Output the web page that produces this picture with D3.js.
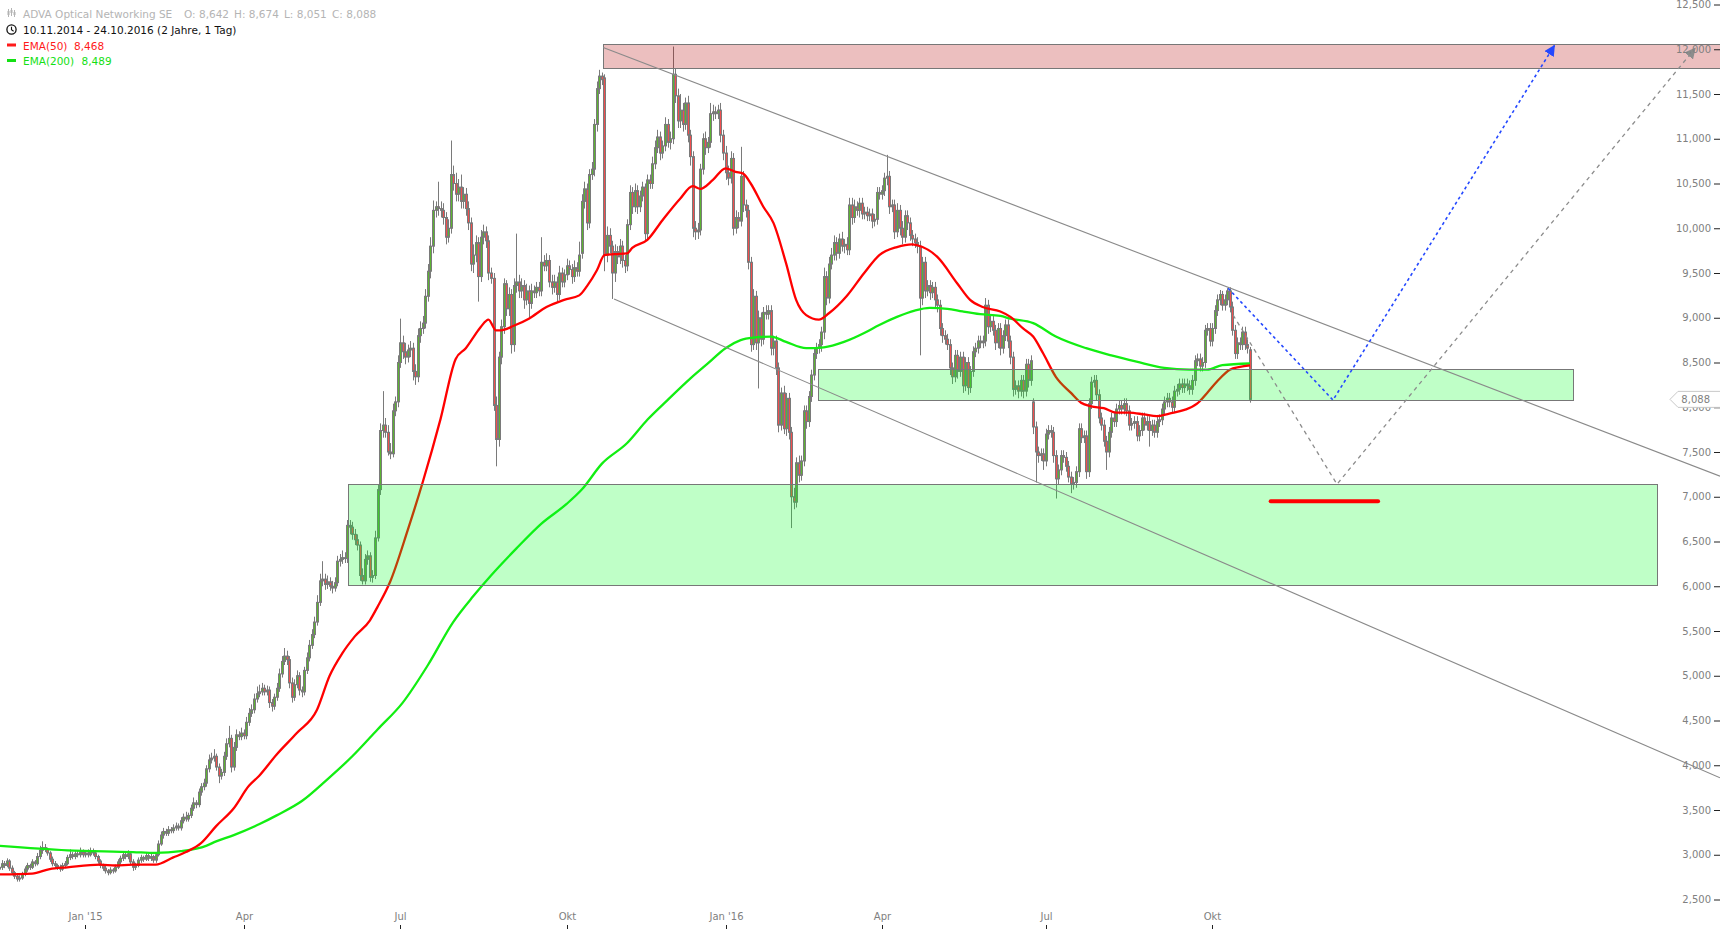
<!DOCTYPE html>
<html><head><meta charset="utf-8">
<script src="https://cdn.jsdelivr.net/npm/d3@7"></script>
<style>body{margin:0;background:#fff;overflow:hidden}svg{display:block}</style>
</head><body><svg id="c" width="1720" height="929"></svg>
<script>
// ---------- DATA (daily candles, trading-day index 0 = 10.11.2014 ... 496 = 24.10.2016) ----------
const opens = [
2.84,2.86,2.90,2.88,2.93,2.85,2.80,2.76,2.73,2.74, 2.78,2.84,2.88,2.86,2.92,2.90,2.98,3.05,3.08,3.06,
3.02,2.95,2.90,2.88,2.86,2.84,2.88,2.90,2.97,3.00, 2.98,3.01,3.00,3.03,3.00,3.02,3.00,3.04,3.02,2.98,
2.93,2.88,2.85,2.82,2.80,2.83,2.82,2.86,2.92,2.96, 3.00,2.98,3.01,2.92,2.86,2.88,2.94,2.97,2.95,2.99,
2.96,2.98,2.94,3.00,3.12,3.22,3.26,3.24,3.28,3.27, 3.30,3.32,3.30,3.38,3.42,3.40,3.44,3.52,3.58,3.56,
3.70,3.76,3.80,3.96,4.06,4.08,4.10,3.98,3.88,3.92, 4.10,4.24,4.30,3.98,4.20,4.34,4.32,4.36,4.33,4.48,
4.58,4.62,4.74,4.80,4.82,4.86,4.82,4.84,4.70,4.66, 4.76,4.86,5.02,5.16,5.22,5.18,4.92,4.76,4.90,5.00,
4.84,4.82,5.06,5.20,5.34,5.46,5.60,5.82,6.06,6.08, 6.02,6.05,6.00,5.98,6.04,6.28,6.30,6.32,6.31,6.68,
6.66,6.58,6.52,6.46,6.12,6.06,6.30,6.34,6.10,6.12, 6.54,7.08,7.74,7.80,7.72,7.50,7.48,7.96,8.06,8.50,
8.72,8.62,8.56,8.64,8.66,8.40,8.34,8.80,8.88,8.94, 9.24,9.52,9.80,10.20,10.24,10.22,10.20,10.12,9.90,10.00,
10.60,10.50,10.38,10.46,10.30,10.38,10.22,10.06,9.60,9.70, 9.84,9.46,9.90,9.96,9.86,9.50,9.44,8.02,7.64,8.56,
8.90,9.38,9.10,9.26,8.70,9.36,9.40,9.30,9.36,9.20, 9.30,9.16,9.30,9.28,9.34,9.30,9.62,9.58,9.64,9.40,
9.34,9.40,9.26,9.50,9.40,9.48,9.58,9.54,9.46,9.56, 9.52,9.72,10.30,10.44,10.06,10.60,10.66,11.16,11.56,11.70,
11.68,9.70,9.92,9.80,9.50,9.74,9.68,9.80,9.64,9.58, 10.04,10.40,10.24,10.42,10.24,10.36,10.46,9.94,10.54,10.50,
10.72,10.90,11.02,10.84,10.92,11.16,10.96,11.00,11.72,11.48, 11.20,11.32,11.16,11.40,11.04,10.80,10.00,9.96,9.98,10.66,
11.00,10.90,10.96,11.28,11.30,11.28,11.32,11.04,10.84,10.62, 10.56,10.78,10.00,10.12,10.08,10.58,10.26,10.20,9.62,8.70,
9.24,8.72,9.00,8.76,9.06,9.04,9.08,8.66,8.74,8.44, 7.80,8.16,7.76,8.10,7.72,7.00,6.94,7.38,7.24,7.40,
7.96,7.84,8.12,8.36,8.60,8.66,8.70,8.84,9.46,9.22, 9.60,9.70,9.84,9.72,9.88,9.80,9.82,9.76,10.26,10.12,
10.24,10.20,10.28,10.16,10.18,10.14,10.16,10.08,10.10,10.40, 10.38,10.42,10.56,10.58,10.24,10.26,9.96,10.20,10.00,9.90,
10.14,10.06,9.92,9.88,9.84,9.80,9.22,9.62,9.30,9.36, 9.28,9.34,9.20,9.14,8.88,8.80,8.76,8.70,8.44,8.34,
8.58,8.40,8.56,8.24,8.50,8.22,8.40,8.62,8.66,8.74, 8.72,8.74,9.14,8.90,8.96,8.86,8.72,8.88,8.66,8.80,
8.92,8.74,8.56,8.20,8.24,8.18,8.30,8.18,8.48,8.30, 8.06,7.78,7.50,7.46,7.48,7.40,7.70,7.74,7.72,7.46,
7.20,7.30,7.46,7.44,7.34,7.22,7.14,7.16,7.28,7.76, 7.66,7.68,7.28,8.04,8.28,8.30,8.14,7.88,7.80,7.62,
7.50,7.72,7.88,7.84,7.98,8.02,7.98,8.04,7.96,7.80, 7.82,7.84,7.68,7.74,7.88,7.80,7.84,7.74,7.80,7.72,
7.84,7.86,7.98,8.06,8.10,8.06,8.00,8.18,8.20,8.26, 8.22,8.26,8.24,8.20,8.30,8.52,8.54,8.46,8.50,8.86,
8.88,8.74,8.88,9.08,9.20,9.26,9.14,9.20,9.30,9.12, 8.86,8.60,8.72,8.70,8.84,8.70,8.642];

const highs = [
2.90,2.94,2.93,2.96,2.95,2.88,2.82,2.78,2.77,2.81, 2.87,2.91,2.90,2.95,2.94,3.02,3.10,3.15,3.12,3.08,
3.04,2.98,2.93,2.90,2.89,2.91,2.93,3.00,3.06,3.03, 3.04,3.05,3.08,3.06,3.05,3.06,3.08,3.07,3.05,3.00,
2.95,2.90,2.88,2.84,2.86,2.85,2.89,2.95,2.99,3.04, 3.03,3.05,3.04,2.95,2.91,2.97,3.00,2.99,3.02,3.01,
3.01,3.00,3.03,3.16,3.26,3.30,3.29,3.32,3.31,3.34, 3.36,3.35,3.42,3.46,3.48,3.47,3.56,3.64,3.61,3.74,
3.80,3.85,4.00,4.12,4.14,4.18,4.13,4.02,3.96,4.15, 4.30,4.44,4.34,4.26,4.40,4.38,4.42,4.40,4.54,4.64,
4.68,4.80,4.88,4.90,4.92,4.90,4.89,4.88,4.74,4.80, 4.92,5.08,5.22,5.31,5.28,5.22,4.98,4.96,5.06,5.04,
4.88,5.10,5.26,5.40,5.52,5.66,5.90,6.14,6.28,6.14, 6.12,6.10,6.06,6.10,6.34,6.36,6.40,6.38,6.74,6.74,
6.72,6.64,6.58,6.50,6.20,6.36,6.40,6.38,6.18,6.62, 7.14,7.82,8.18,7.88,7.80,7.60,8.04,8.12,8.58,8.99,
8.80,8.72,8.70,8.74,8.72,8.48,8.88,8.96,9.02,9.32, 9.60,9.90,10.31,10.30,10.52,10.30,10.28,10.18,10.10,10.98,
10.70,10.62,10.55,10.60,10.46,10.45,10.30,10.12,9.82,9.92, 9.90,9.98,10.04,10.02,9.92,9.56,9.50,8.12,8.62,8.98,
9.44,9.42,9.34,9.32,9.44,9.94,9.48,9.44,9.42,9.38, 9.36,9.38,9.36,9.40,9.40,9.90,9.70,9.72,9.70,9.48,
9.48,9.46,9.58,9.56,9.54,9.66,9.64,9.60,9.64,9.62, 9.85,10.38,10.52,10.50,10.66,10.74,11.22,11.64,11.77,11.74,
11.72,10.02,10.00,9.86,9.82,9.80,9.88,9.86,9.70,10.10, 10.48,10.46,10.50,10.48,10.42,10.52,10.50,10.60,10.60,10.80,
10.98,11.10,11.08,10.98,11.24,11.22,11.08,12.03,11.78,11.56, 11.50,11.40,11.46,11.48,11.10,10.86,10.08,10.06,10.72,11.06,
11.08,11.02,11.40,11.38,11.36,11.38,11.40,11.10,10.92,10.70, 10.86,10.84,10.20,10.18,10.91,10.64,10.32,10.26,9.68,9.32,
9.30,9.08,9.06,9.12,9.14,9.14,9.14,8.80,8.80,8.50, 8.22,8.24,8.16,8.16,7.78,7.10,7.44,7.46,7.46,8.02,
8.02,8.18,8.42,8.66,8.72,8.76,8.90,9.56,9.52,9.68, 9.78,9.92,9.90,9.94,9.96,9.88,9.90,10.34,10.34,10.32,
10.30,10.34,10.34,10.24,10.24,10.22,10.22,10.16,10.46,10.46, 10.48,10.62,10.82,10.64,10.32,10.32,10.28,10.26,10.08,10.20,
10.20,10.12,9.98,9.94,9.90,9.86,9.68,9.68,9.42,9.42, 9.40,9.40,9.26,9.20,8.94,8.86,8.82,8.76,8.50,8.64,
8.64,8.62,8.62,8.56,8.56,8.46,8.68,8.72,8.80,8.80, 8.80,9.22,9.20,9.02,9.02,8.92,8.94,8.94,8.86,8.98,
8.98,8.80,8.62,8.30,8.30,8.36,8.36,8.54,8.54,8.58, 8.10,7.84,7.56,7.54,7.54,7.76,7.80,7.80,7.78,7.52,
7.36,7.52,7.52,7.50,7.40,7.28,7.22,7.34,7.82,7.82, 7.74,7.74,8.10,8.34,8.36,8.36,8.20,7.94,7.86,7.68,
7.78,7.94,7.94,8.04,8.08,8.08,8.10,8.10,8.02,7.88, 7.90,7.90,7.80,7.94,7.94,7.90,7.90,7.86,7.86,7.90,
7.92,8.04,8.12,8.16,8.16,8.12,8.24,8.26,8.32,8.32, 8.32,8.32,8.30,8.36,8.58,8.60,8.60,8.56,8.92,8.94,
8.94,8.94,9.14,9.26,9.31,9.30,9.26,9.33,9.34,9.18, 8.92,8.78,8.78,8.90,8.90,8.76,8.674];

const lows = [
2.81,2.83,2.85,2.86,2.82,2.77,2.73,2.70,2.70,2.72, 2.76,2.81,2.83,2.84,2.87,2.88,2.95,3.01,3.03,2.99,
2.92,2.87,2.85,2.83,2.81,2.82,2.85,2.88,2.94,2.95, 2.95,2.97,2.97,2.97,2.97,2.97,2.98,2.99,2.95,2.90,
2.85,2.82,2.79,2.77,2.78,2.79,2.80,2.84,2.89,2.93, 2.95,2.95,2.89,2.82,2.83,2.86,2.91,2.92,2.93,2.93,
2.93,2.91,2.91,2.98,3.10,3.18,3.21,3.21,3.24,3.24, 3.27,3.27,3.27,3.35,3.37,3.37,3.41,3.49,3.52,3.53,
3.66,3.72,3.76,3.92,4.02,4.04,3.94,3.80,3.84,3.88, 4.06,4.20,3.92,3.94,4.16,4.28,4.28,4.29,4.29,4.44,
4.54,4.58,4.70,4.76,4.78,4.78,4.78,4.64,4.60,4.62, 4.72,4.82,4.98,5.12,5.12,4.86,4.70,4.72,4.86,4.78,
4.76,4.78,5.02,5.16,5.30,5.42,5.56,5.78,6.00,5.96, 5.97,5.95,5.92,5.94,6.00,6.22,6.25,6.26,6.26,6.58,
6.52,6.46,6.40,6.06,6.02,6.02,6.24,6.05,6.04,6.08, 6.50,7.02,7.66,7.66,7.46,7.42,7.44,7.90,8.00,8.44,
8.54,8.48,8.50,8.56,8.30,8.25,8.28,8.72,8.82,8.88, 9.18,9.44,9.72,10.12,10.14,10.12,10.04,9.82,9.84,9.94,
10.42,10.30,10.30,10.22,10.22,10.14,9.98,9.52,9.50,9.62, 9.18,9.40,9.82,9.78,9.42,9.38,7.96,7.34,7.56,8.48,
8.82,9.02,9.02,8.60,8.62,9.28,9.22,9.22,9.10,9.14, 9.00,9.10,9.22,9.22,9.24,9.24,9.52,9.52,9.34,9.26,
9.28,9.18,9.20,9.34,9.34,9.42,9.48,9.38,9.40,9.46, 9.46,9.66,10.22,9.98,10.00,10.54,10.58,11.08,11.50,11.60,
9.52,9.62,9.72,9.21,9.40,9.60,9.60,9.56,9.50,9.52, 9.98,10.16,10.18,10.16,10.18,10.30,9.86,9.88,10.44,10.44,
10.66,10.84,10.76,10.78,10.86,10.90,10.88,10.94,11.40,11.12, 11.12,11.08,11.10,10.96,10.70,9.90,9.87,9.88,9.92,10.60,
10.82,10.84,10.90,11.20,11.22,11.22,10.96,10.76,10.54,10.48, 10.50,9.92,9.94,10.00,10.02,10.18,10.12,9.54,8.62,8.64,
8.64,8.21,8.68,8.70,8.98,8.98,8.58,8.58,8.36,7.72, 7.74,7.70,7.68,7.64,6.65,6.86,6.88,7.16,7.18,7.34,
7.76,7.78,8.06,8.30,8.54,8.60,8.62,8.76,9.14,9.16, 9.54,9.64,9.64,9.66,9.74,9.72,9.70,9.70,10.04,10.06,
10.14,10.12,10.10,10.10,10.08,10.08,10.00,10.02,10.04,10.32, 10.32,10.36,10.48,10.16,10.18,9.88,9.90,9.92,9.82,9.84,
9.98,9.86,9.80,9.78,9.72,8.58,9.14,9.22,9.24,9.20, 9.22,9.12,9.06,8.80,8.72,8.70,8.64,8.36,8.26,8.28,
8.32,8.34,8.16,8.18,8.14,8.16,8.34,8.56,8.60,8.66, 8.66,8.68,8.82,8.84,8.80,8.64,8.66,8.58,8.60,8.74,
8.66,8.48,8.12,8.14,8.10,8.12,8.10,8.12,8.22,8.24, 7.70,7.16,7.38,7.40,7.30,7.34,7.64,7.66,7.38,6.98,
7.14,7.24,7.38,7.28,7.16,7.04,7.08,7.10,7.22,7.60, 7.60,7.20,7.22,7.98,8.22,8.08,7.82,7.74,7.56,7.30,
7.44,7.66,7.78,7.78,7.92,7.92,7.92,7.90,7.74,7.74, 7.76,7.62,7.62,7.68,7.74,7.74,7.56,7.68,7.66,7.66,
7.78,7.80,7.92,8.00,8.00,7.94,7.94,8.12,8.14,8.16, 8.16,8.18,8.14,8.14,8.24,8.46,8.40,8.40,8.44,8.80,
8.68,8.68,8.82,9.02,9.14,9.08,9.08,9.14,9.06,8.80, 8.54,8.54,8.64,8.64,8.64,8.60,8.051];

const closes = [
2.86,2.90,2.88,2.93,2.85,2.80,2.76,2.73,2.74,2.78, 2.84,2.88,2.86,2.92,2.90,2.98,3.05,3.08,3.06,3.02,
2.95,2.90,2.88,2.86,2.84,2.88,2.90,2.97,3.00,2.98, 3.01,3.00,3.03,3.00,3.02,3.00,3.04,3.02,2.98,2.93,
2.88,2.85,2.82,2.80,2.83,2.82,2.86,2.92,2.96,3.00, 2.98,3.01,2.92,2.86,2.88,2.94,2.97,2.95,2.99,2.96,
2.98,2.94,3.00,3.12,3.22,3.26,3.24,3.28,3.27,3.30, 3.32,3.30,3.38,3.42,3.40,3.44,3.52,3.58,3.56,3.70,
3.76,3.80,3.96,4.06,4.08,4.10,3.98,3.88,3.92,4.10, 4.24,4.30,3.98,4.20,4.34,4.32,4.36,4.33,4.48,4.58,
4.62,4.74,4.80,4.82,4.86,4.82,4.84,4.70,4.66,4.76, 4.86,5.02,5.16,5.22,5.18,4.92,4.76,4.90,5.00,4.84,
4.82,5.06,5.20,5.34,5.46,5.60,5.82,6.06,6.08,6.02, 6.05,6.00,5.98,6.04,6.28,6.30,6.32,6.31,6.68,6.66,
6.58,6.52,6.46,6.12,6.06,6.30,6.34,6.10,6.12,6.54, 7.08,7.74,7.80,7.72,7.50,7.48,7.96,8.06,8.50,8.72,
8.62,8.56,8.64,8.66,8.40,8.34,8.80,8.88,8.94,9.24, 9.52,9.80,10.20,10.24,10.22,10.20,10.12,9.90,10.00,10.60,
10.50,10.38,10.46,10.30,10.38,10.22,10.06,9.60,9.70,9.84, 9.46,9.90,9.96,9.86,9.50,9.44,8.02,7.64,8.56,8.90,
9.38,9.10,9.26,8.70,9.36,9.40,9.30,9.36,9.20,9.30, 9.16,9.30,9.28,9.34,9.30,9.62,9.58,9.64,9.40,9.34,
9.40,9.26,9.50,9.40,9.48,9.58,9.54,9.46,9.56,9.52, 9.70,10.30,10.44,10.06,10.60,10.66,11.16,11.56,11.70,11.66,
9.70,9.92,9.80,9.50,9.74,9.68,9.80,9.64,9.58,10.04, 10.40,10.24,10.42,10.24,10.36,10.46,9.94,10.54,10.50,10.72,
10.90,11.02,10.84,10.92,11.16,10.96,11.00,11.72,11.48,11.20, 11.32,11.16,11.40,11.04,10.80,10.00,9.96,9.98,10.66,11.00,
10.90,10.96,11.28,11.30,11.28,11.32,11.04,10.84,10.62,10.56, 10.78,10.00,10.12,10.08,10.58,10.26,10.20,9.62,8.70,9.24,
8.72,9.00,8.76,9.06,9.04,9.08,8.66,8.74,8.44,7.80, 8.16,7.76,8.10,7.72,7.00,6.94,7.38,7.24,7.40,7.96,
7.84,8.12,8.36,8.60,8.66,8.70,8.84,9.46,9.22,9.60, 9.70,9.84,9.72,9.88,9.80,9.82,9.76,10.26,10.12,10.24,
10.20,10.28,10.16,10.18,10.14,10.16,10.08,10.10,10.40,10.38, 10.42,10.56,10.58,10.24,10.26,9.96,10.20,10.00,9.90,10.14,
10.06,9.92,9.88,9.84,9.80,9.22,9.62,9.30,9.36,9.28, 9.34,9.20,9.14,8.88,8.80,8.76,8.70,8.44,8.34,8.58,
8.40,8.56,8.24,8.50,8.22,8.40,8.62,8.66,8.74,8.72, 8.74,9.14,8.90,8.96,8.86,8.72,8.88,8.66,8.80,8.92,
8.74,8.56,8.20,8.24,8.18,8.30,8.18,8.48,8.30,8.52, 7.78,7.50,7.46,7.48,7.40,7.70,7.74,7.72,7.46,7.20,
7.30,7.46,7.44,7.34,7.22,7.14,7.16,7.28,7.76,7.66, 7.68,7.28,8.04,8.28,8.30,8.14,7.88,7.80,7.62,7.50,
7.72,7.88,7.84,7.98,8.02,7.98,8.04,7.96,7.80,7.82, 7.84,7.68,7.74,7.88,7.80,7.84,7.74,7.80,7.72,7.84,
7.86,7.98,8.06,8.10,8.06,8.00,8.18,8.20,8.26,8.22, 8.26,8.24,8.20,8.30,8.52,8.54,8.46,8.50,8.86,8.88,
8.74,8.88,9.08,9.20,9.26,9.14,9.20,9.30,9.12,8.86, 8.60,8.72,8.70,8.84,8.70,8.66,8.088];

// EMA lines: [trading-day index, value]
const ema50 = [[0,2.78],[13,2.79],[20,2.84],[27,2.86],[40,2.89],[46,2.88],[53,2.89],[62,2.89],[69,2.97],[74,3.03],
[80,3.13],[86,3.32],[93,3.52],[99,3.77],[103,3.88],[110,4.12],[118,4.36],[126,4.62],[131,5.00],[136,5.25],[141,5.44],
[147,5.62],[150,5.77],[155,6.05],[162,6.63],[168,7.17],[175,7.87],[181,8.54],[185,8.66],[188,8.78],[191,8.90],[194,8.98],
[197,8.86],[199,8.86],[204,8.91],[210,8.99],[217,9.12],[224,9.20],[230,9.25],[233,9.35],[237,9.53],[240,9.70],[244,9.71],
[249,9.72],[251,9.78],[257,9.87],[263,10.09],[270,10.33],[275,10.47],[278,10.44],[283,10.54],[288,10.67],[292,10.63],
[295,10.61],[298,10.50],[303,10.24],[307,10.06],[312,9.61],[316,9.20],[320,9.03],[325,8.98],[329,9.05],[336,9.24],
[343,9.50],[349,9.70],[356,9.79],[362,9.82],[364,9.81],[372,9.68],[380,9.38],[385,9.20],[390,9.12],[397,9.07],[401,9.01],
[406,8.88],[410,8.79],[414,8.60],[419,8.34],[425,8.16],[429,8.05],[433,8.01],[438,7.99],[443,7.94],[448,7.94],[454,7.92],
[459,7.90],[464,7.93],[470,7.97],[475,8.04],[479,8.16],[483,8.29],[488,8.42],[492,8.45],[496,8.468]];
const ema200 = [[0,3.10],[27,3.05],[53,3.03],[62,3.02],[72,3.04],[82,3.10],[86,3.15],[93,3.22],[103,3.34],[110,3.44],
[120,3.60],[130,3.84],[140,4.10],[150,4.40],[160,4.70],[170,5.12],[180,5.60],[188,5.89],[195,6.12],[205,6.42],[215,6.70],
[225,6.92],[231,7.08],[239,7.37],[249,7.60],[257,7.86],[265,8.08],[274,8.32],[281,8.49],[288,8.66],[294,8.75],[300,8.78],
[306,8.79],[312,8.73],[320,8.66],[327,8.67],[335,8.73],[343,8.83],[349,8.92],[356,9.01],[363,9.08],[369,9.11],[376,9.10],
[382,9.07],[389,9.04],[397,9.02],[401,8.99],[410,8.94],[419,8.79],[431,8.66],[441,8.58],[451,8.51],[462,8.44],[472,8.42],
[479,8.42],[485,8.47],[496,8.489]];

// axis ticks
const xTickIndex = [34, 97, 159, 225, 288, 350, 415, 481];
const xTickLabels = ["Jan '15", "Apr", "Jul", "Okt", "Jan '16", "Apr", "Jul", "Okt"];
const yTickValues = [2.5,3,3.5,4,4.5,5,5.5,6,6.5,7,7.5,8,8.5,9,9.5,10,10.5,11,11.5,12,12.5];

// drawn zones [startIndex, endIndex, upper, lower]
const resistanceZone = [239.5, 700, 12.06, 11.79];
const upperSupportZone = [324.8, 624.2, 8.43, 8.08];
const lowerSupportZone = [138.4, 657.6, 7.14, 6.01];
const supportLine = [504.2, 546.8, 6.95];
// trend channel lines [[index, value], [index, value]]
const channelUpper = [[239.5, 12.02], [682.4, 7.23]];
const channelLower = [[243.8, 9.21], [682.4, 3.86]];
// scenario paths
const scenarioBlue = [[487.3, 9.33], [528.9, 8.08], [616.7, 12.04]];
const scenarioGrey = [[489.3, 9.03], [530.5, 7.14], [672.5, 12.01]];

const title = "ADVA Optical Networking SE";
const period = "10.11.2014 - 24.10.2016 (2 Jahre, 1 Tag)";

// ---------- DRAW ----------
const FONT = '"DejaVu Sans", sans-serif';
const svg = d3.select('#c');
const x = d3.scaleLinear().domain([0, 496]).range([-0.7, 1250]);
const y = d3.scaleLinear().domain([2.5, 12.5]).range([899.5, 4.5]);
const fmt = v => d3.format('.3f')(v).replace('.', ',');
const px = v => Math.round(v) + 0.5;

const defs = svg.append('defs');
function arrow(id, color) {
  defs.append('marker').attr('id', id).attr('viewBox', '0 0 10 10').attr('refX', 9).attr('refY', 5)
    .attr('markerWidth', 11).attr('markerHeight', 11).attr('markerUnits', 'userSpaceOnUse').attr('orient', 'auto')
    .append('path').attr('d', 'M0,0 L10,5 L0,10 z').attr('fill', color);
}
arrow('arrB', '#2448ff');
arrow('arrG', '#8c8c8c');

// candles
const idx = d3.range(closes.length);
const gC = svg.append('g');
gC.selectAll('line').data(idx).join('line')
  .attr('x1', i => px(x(i))).attr('x2', i => px(x(i)))
  .attr('y1', i => y(highs[i])).attr('y2', i => y(lows[i]))
  .attr('stroke', '#7a7a7a').attr('stroke-width', 1);
gC.selectAll('rect').data(idx).join('rect')
  .attr('x', i => Math.round(x(i)) - 0.5).attr('width', 2)
  .attr('y', i => y(Math.max(opens[i], closes[i])))
  .attr('height', i => Math.max(1, Math.abs(y(opens[i]) - y(closes[i]))))
  .attr('fill', i => closes[i] >= opens[i] ? '#5db333' : '#f04f4f')
  .attr('stroke', '#7a7a7a').attr('stroke-width', 1);

// EMA lines
const line = d3.line().x(d => x(d[0])).y(d => y(d[1])).curve(d3.curveMonotoneX);
svg.append('path').attr('d', line(ema200)).attr('fill', 'none').attr('stroke', '#12ee12').attr('stroke-width', 2.3);
svg.append('path').attr('d', line(ema50)).attr('fill', 'none').attr('stroke', '#ff0000').attr('stroke-width', 2.3);

// zones (semi-transparent overlays)
function zone(z, fill) {
  const x0 = px(x(z[0])), x1 = px(x(z[1])), y0 = px(y(z[2])), y1 = px(y(z[3]));
  svg.append('rect').attr('x', x0).attr('y', y0).attr('width', x1 - x0).attr('height', y1 - y0)
    .attr('fill', fill).attr('stroke', '#777').attr('stroke-width', 1);
}
zone(lowerSupportZone, 'rgba(0,255,33,0.25)');
zone(upperSupportZone, 'rgba(0,255,33,0.25)');
zone(resistanceZone, 'rgba(180,0,0,0.25)');

// channel lines
[channelUpper, channelLower].forEach(c => {
  svg.append('line').attr('x1', x(c[0][0])).attr('y1', y(c[0][1])).attr('x2', x(c[1][0])).attr('y2', y(c[1][1]))
    .attr('stroke', '#8a8a8a').attr('stroke-width', 1.1);
});

// scenario paths
const straight = d3.line().x(d => x(d[0])).y(d => y(d[1]));
svg.append('path').attr('d', straight(scenarioGrey)).attr('fill', 'none').attr('stroke', '#8c8c8c')
  .attr('stroke-width', 1.3).attr('stroke-dasharray', '4,4').attr('marker-end', 'url(#arrG)');
svg.append('path').attr('d', straight(scenarioBlue)).attr('fill', 'none').attr('stroke', '#2448ff')
  .attr('stroke-width', 1.6).attr('stroke-dasharray', '3,3').attr('marker-end', 'url(#arrB)');

// support line (thick red)
svg.append('line').attr('x1', x(supportLine[0])).attr('x2', x(supportLine[1]))
  .attr('y1', y(supportLine[2])).attr('y2', y(supportLine[2]))
  .attr('stroke', '#ff0000').attr('stroke-width', 4).attr('stroke-linecap', 'round');

// y axis (right)
const yAxis = d3.axisLeft(y).tickValues(yTickValues).tickFormat(fmt).tickSize(6).tickPadding(3);
const gy = svg.append('g').attr('transform', 'translate(1720,0)').call(yAxis);
gy.select('.domain').remove();
gy.selectAll('line').attr('stroke', '#222');
gy.selectAll('text').attr('fill', '#808080').style('font-family', FONT).style('font-size', '10px');

// x axis (bottom)
const xAxis = d3.axisTop(x).tickValues(xTickIndex).tickFormat((d, i) => xTickLabels[i]).tickSize(4).tickPadding(5);
const gx = svg.append('g').attr('transform', 'translate(0,929)').call(xAxis);
gx.select('.domain').remove();
gx.selectAll('line').attr('stroke', '#222');
gx.selectAll('.tick').attr('transform', d => `translate(${px(x(d))},0)`);
gx.selectAll('text').attr('fill', '#808080').style('font-family', FONT).style('font-size', '10px');

// last price tag
const last = closes.length - 1;
const ly = y(closes[last]);
svg.append('path').attr('d', `M1670,${ly} L1678,${ly - 8} L1721,${ly - 8} L1721,${ly + 8} L1678,${ly + 8} Z`)
  .attr('fill', '#fff').attr('stroke', '#c8c8c8').attr('stroke-width', 1);
svg.append('text').attr('x', 1710).attr('y', ly + 3.5).attr('text-anchor', 'end').text(fmt(closes[last]))
  .attr('fill', '#808080').style('font-family', FONT).style('font-size', '10px');

// legend
const lg = svg.append('g').style('font-family', FONT).style('font-size', '10.5px');
[[8, 9, 17, 11, 15], [11, 8, 16, 10, 13], [14, 10, 17, 12, 15]].forEach(a => {
  lg.append('line').attr('x1', a[0] + 0.5).attr('x2', a[0] + 0.5).attr('y1', a[1]).attr('y2', a[2]).attr('stroke', '#b4b4b4');
  lg.append('rect').attr('x', a[0] - 0.5).attr('y', a[3]).attr('width', 2).attr('height', a[4] - a[3]).attr('fill', '#b4b4b4');
});
lg.append('text').attr('x', 23).attr('y', 17.5).attr('fill', '#b4b4b4').text(title);
const ohlcItems = [['O', opens[last], 184], ['H', highs[last], 234], ['L', lows[last], 284], ['C', closes[last], 332]];
ohlcItems.forEach(o => lg.append('text').attr('x', o[2]).attr('y', 17.5).attr('fill', '#b4b4b4').text(`${o[0]}: ${fmt(o[1])}`));
lg.append('circle').attr('cx', 11.5).attr('cy', 29.5).attr('r', 4.6).attr('fill', 'none').attr('stroke', '#111').attr('stroke-width', 1.3);
lg.append('path').attr('d', 'M11.5,26.8 L11.5,29.8 L13.6,31.3').attr('fill', 'none').attr('stroke', '#111').attr('stroke-width', 1.1);
lg.append('text').attr('x', 23).attr('y', 34).attr('fill', '#111').text(period);
lg.append('rect').attr('x', 7).attr('y', 43.5).attr('width', 9).attr('height', 3).attr('fill', '#ff1a1a');
lg.append('text').attr('x', 23).attr('y', 49.5).attr('fill', '#ff1a1a').text('EMA(50)');
lg.append('text').attr('x', 74).attr('y', 49.5).attr('fill', '#ff1a1a').text(fmt(ema50[ema50.length - 1][1]));
lg.append('rect').attr('x', 7).attr('y', 59).attr('width', 9).attr('height', 3).attr('fill', '#14e014');
lg.append('text').attr('x', 23).attr('y', 65).attr('fill', '#14e014').text('EMA(200)');
lg.append('text').attr('x', 81.5).attr('y', 65).attr('fill', '#14e014').text(fmt(ema200[ema200.length - 1][1]));
</script>
</body></html>
